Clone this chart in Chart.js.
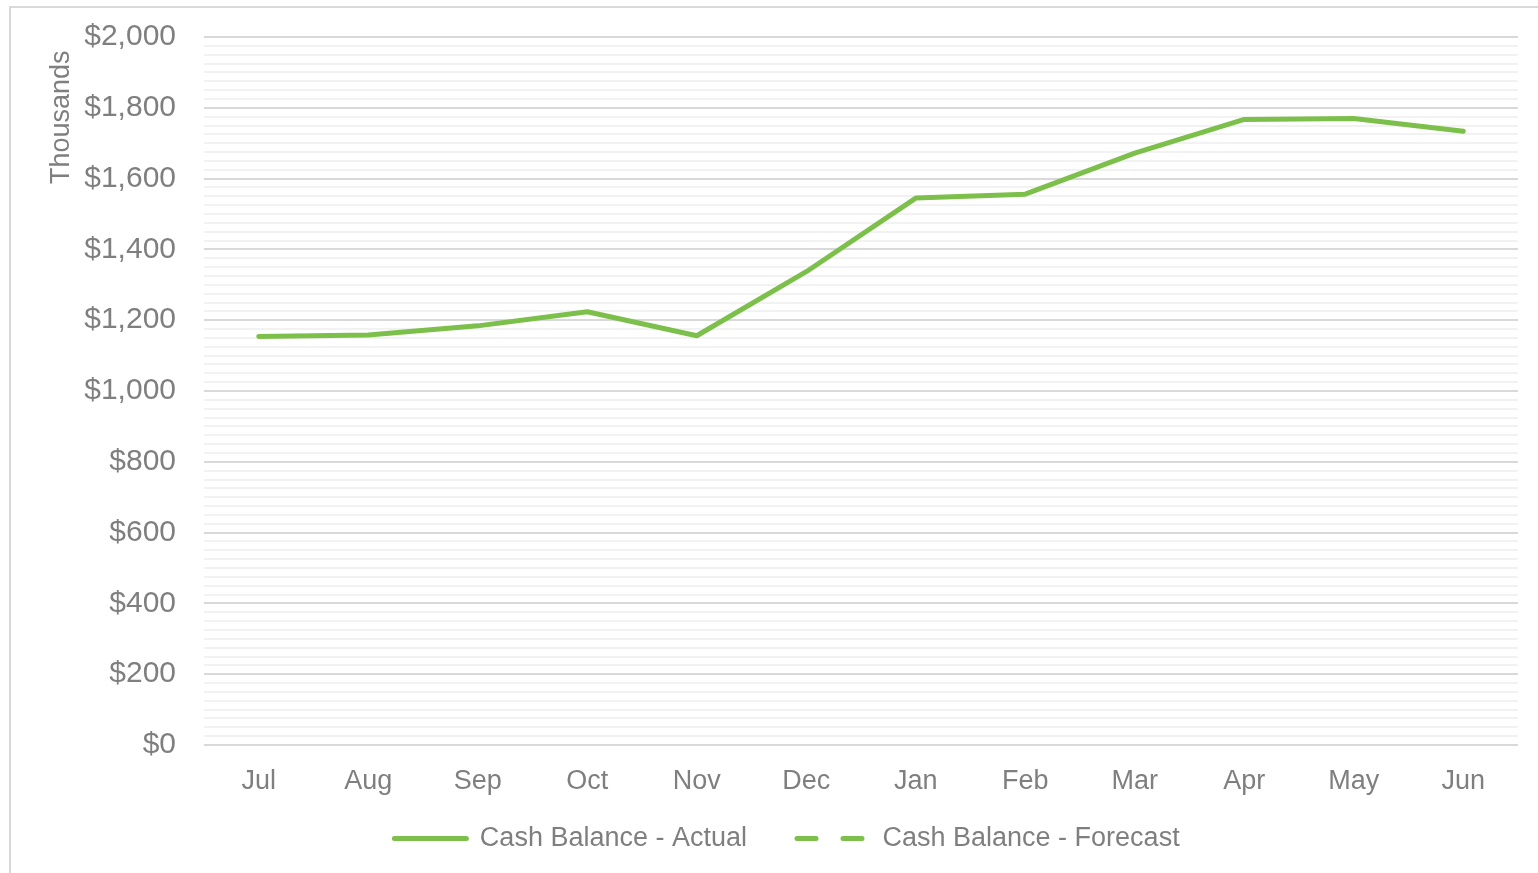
<!DOCTYPE html>
<html>
<head>
<meta charset="utf-8">
<script src="https://cdn.jsdelivr.net/npm/chart.js@4"></script>
<style>
    html, body { margin: 0; padding: 0; background: #fff; overflow: hidden; }
    #wrap { position: relative; width: 1538px; height: 873px; }
    #frame { position: absolute; left: 9px; top: 6px; width: 1560px; height: 900px; border: 2px solid #d9d9d9; box-sizing: border-box; }
    #cash-chart { position: absolute; left: 0; top: 0; }
</style>
</head>
<body>
<div id="wrap">
    <div id="frame"></div>
    <canvas id="cash-chart" width="1538" height="873"></canvas>
</div>
<script>
const months = ['Jul', 'Aug', 'Sep', 'Oct', 'Nov', 'Dec', 'Jan', 'Feb', 'Mar', 'Apr', 'May', 'Jun'];
const cashActual = [1154, 1158, 1184, 1224, 1156, 1337, 1545, 1556, 1672, 1767, 1770, 1734];
const cashForecast = [null, null, null, null, null, null, null, null, null, null, null, null];
const seriesNames = ['Cash Balance - Actual', 'Cash Balance - Forecast'];
const axisTitle = 'Thousands';

const green = '#7cc04b';
const grey = '#7f7f7f';
const fontFamily = '"Liberation Sans", Arial, sans-serif';
const padLeft = 56;

const canvas = document.querySelector('#cash-chart');
const ctx = canvas.getContext('2d');

new Chart(ctx, {
    type: 'line',
    data: {
        labels: months,
        datasets: [{
            label: seriesNames[0],
            data: cashActual,
            borderColor: green,
            backgroundColor: green,
            borderWidth: 5,
            borderCapStyle: 'round',
            borderJoinStyle: 'round',
            pointRadius: 0,
            tension: 0
        }, {
            label: seriesNames[1],
            data: cashForecast,
            borderColor: green,
            backgroundColor: green,
            borderWidth: 5,
            borderDash: [19, 27],
            borderCapStyle: 'round',
            pointRadius: 0,
            tension: 0
        }]
    },
    options: {
        responsive: false,
        animation: false,
        events: [],
        layout: {
            padding: { left: padLeft, right: 20, top: 37, bottom: 11 }
        },
        plugins: {
            tooltip: { enabled: false },
            legend: {
                position: 'bottom',
                labels: {
                    usePointStyle: true,
                    pointStyle: 'line',
                    pointStyleWidth: 72,
                    boxHeight: 5,
                    padding: 20,
                    color: grey,
                    font: { family: fontFamily, size: 27 },
                    // point style legends ignore the dataset dash, so copy it over
                    generateLabels: (chart) => {
                        const items = Chart.defaults.plugins.legend.labels.generateLabels(chart);
                        items.forEach((item, i) => {
                            const ds = chart.data.datasets[item.datasetIndex];
                            item.lineDash = ds.borderDash || [];
                            item.lineCap = 'round';
                            item.lineWidth = 5;
                            item.strokeStyle = ds.borderColor;
                            // extra room between items without growing the legend height
                            if (i < items.length - 1) item.text += '\u00a0\u00a0\u00a0\u00a0';
                        });
                        return items;
                    }
                }
            }
        },
        scales: {
            x: {
                offset: true,
                grid: { display: false },
                border: { display: false },
                ticks: {
                    color: grey,
                    padding: 12,
                    font: { family: fontFamily, size: 27 }
                },
                afterFit: (scale) => { scale.height = 60; }
            },
            y: {
                min: 0,
                max: 2000,
                border: { display: false },
                grid: {
                    drawTicks: false,
                    lineWidth: 2,
                    color: (c) => (c.tick && c.tick.value % 200 === 0) ? '#d9d9d9' : '#f2f2f2'
                },
                ticks: {
                    stepSize: 25,
                    maxTicksLimit: 200,
                    autoSkip: false,
                    padding: 28,
                    color: grey,
                    font: { family: fontFamily, size: 30 },
                    callback: (v) => v % 200 === 0 ? '$' + v.toLocaleString('en-US') : ''
                },
                title: {
                    display: true,
                    // trailing space nudges the title down from the top edge
                    text: axisTitle + '\u2002',
                    align: 'end',
                    color: grey,
                    padding: { top: -11, bottom: 0 },
                    font: { family: fontFamily, size: 27 }
                },
                afterFit: (scale) => {
                    scale.width = 204 - padLeft;
                    scale.paddingTop = 0;
                    scale.paddingBottom = 0;
                }
            }
        }
    }
});
</script>
</body>
</html>
